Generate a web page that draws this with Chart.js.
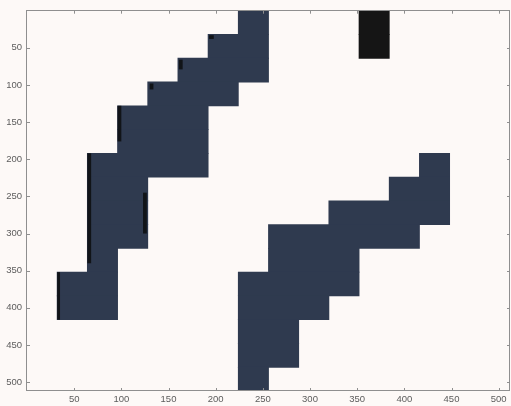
<!DOCTYPE html>
<html>
<head>
<meta charset="utf-8">
<style>
  html, body { margin: 0; padding: 0; background: #fdf9f7; }
  #wrap { width: 511px; height: 406px; }
</style>
<script src="https://cdn.jsdelivr.net/npm/chart.js@4/dist/chart.umd.min.js"></script>
</head>
<body>
<div id="wrap"><canvas id="c" width="511" height="406"></canvas></div>
<script>
// 512 x 512 binary image made of 32 px cells, shown with image-style axes (row 0 at top).
const IMAGE_SIZE = 512;
const CELL = 32;
const TICK_VALUES = [50, 100, 150, 200, 250, 300, 350, 400, 450, 500];

// Upper-left staircase: top edge of each 32 px row and the column span it covers.
const upperRows  = [0, 32, 64, 96, 128, 160, 192, 224, 256, 288, 320, 352, 384];
const upperSpans = [[224, 256], [192, 256], [160, 256], [128, 224], [96, 192], [96, 192],
                    [64, 192], [64, 128], [64, 128], [64, 128], [64, 96], [32, 96], [32, 96]];

// Lower-right staircase.
const lowerRows  = [192, 224, 256, 288, 320, 352, 384, 416, 448, 480];
const lowerSpans = [[416, 448], [384, 448], [320, 448], [256, 416], [256, 352],
                    [224, 352], [224, 320], [224, 288], [224, 288], [224, 256]];

// Solid black block near the top.
const blockRows  = [0, 32];
const blockSpans = [[352, 384], [352, 384]];

// Dark streaks along some edges of the upper staircase: column span and row span.
const streakCols = [[64, 68], [32, 35], [96, 100], [123, 127], [130, 134], [161, 165], [193, 198]];
const streakRowSpans = [[192, 340], [352, 416], [128, 176], [245, 300], [98, 106], [66, 79], [33, 38]];

const SHAPE_COLOR = '#2f3a4f';
const BLOCK_COLOR = '#151515';
const STREAK_COLOR = '#111418';
const PAPER = '#fdf9f7';
const FRAME = '#8f8f8f';
const LABEL = '#5c5c5c';

function rowsToBars(rows, spans) {
  return rows.map((top, i) => ({ y: top + CELL / 2, x: spans[i] }));
}

const paper = {
  id: 'paper',
  beforeDraw(chart) {
    const ctx = chart.ctx;
    ctx.save();
    ctx.fillStyle = PAPER;
    ctx.fillRect(0, 0, chart.width, chart.height);
    ctx.restore();
  }
};

const streaks = {
  id: 'streaks',
  afterDatasetsDraw(chart) {
    const { ctx, scales: { x, y } } = chart;
    ctx.save();
    ctx.fillStyle = STREAK_COLOR;
    streakCols.forEach((c, i) => {
      const r = streakRowSpans[i];
      const x0 = x.getPixelForValue(c[0]), x1 = x.getPixelForValue(c[1]);
      const y0 = y.getPixelForValue(r[0]), y1 = y.getPixelForValue(r[1]);
      ctx.fillRect(x0, Math.min(y0, y1), x1 - x0, Math.abs(y1 - y0));
    });
    ctx.restore();
  }
};

// Box around the image with short inward tick marks on all four sides.
const frame = {
  id: 'frame',
  afterDraw(chart) {
    const { ctx, chartArea: a, scales: { x, y } } = chart;
    ctx.save();
    ctx.strokeStyle = FRAME;
    ctx.lineWidth = 1;
    ctx.strokeRect(Math.round(a.left) - 0.5, Math.round(a.top) - 0.5,
                   Math.round(a.right - a.left), Math.round(a.bottom - a.top));
    ctx.beginPath();
    const len = 3;
    TICK_VALUES.forEach(v => {
      const px = Math.round(x.getPixelForValue(v)) + 0.5;
      ctx.moveTo(px, a.top); ctx.lineTo(px, a.top + len);
      ctx.moveTo(px, a.bottom); ctx.lineTo(px, a.bottom - len);
      const py = Math.round(y.getPixelForValue(v)) + 0.5;
      ctx.moveTo(a.left, py); ctx.lineTo(a.left + len, py);
      ctx.moveTo(a.right, py); ctx.lineTo(a.right - len, py);
    });
    ctx.stroke();
    ctx.restore();
  }
};

const tickFont = { family: '"Liberation Sans", Arial, sans-serif', size: 9.5 };

const fixedTicks = scale => { scale.ticks = TICK_VALUES.map(v => ({ value: v })); };

new Chart(document.getElementById('c'), {
  type: 'bar',
  data: {
    datasets: [
      { data: rowsToBars(upperRows, upperSpans), backgroundColor: SHAPE_COLOR },
      { data: rowsToBars(lowerRows, lowerSpans), backgroundColor: SHAPE_COLOR },
      { data: rowsToBars(blockRows, blockSpans), backgroundColor: BLOCK_COLOR }
    ]
  },
  options: {
    indexAxis: 'y',
    responsive: false,
    animation: false,
    devicePixelRatio: 1,
    layout: { padding: { top: 10, right: 1, left: 0, bottom: 0 } },
    datasets: {
      bar: {
        grouped: false,
        barPercentage: 1,
        categoryPercentage: 1,
        borderWidth: 0,
        inflateAmount: 0.4
      }
    },
    plugins: {
      legend: { display: false },
      tooltip: { enabled: false }
    },
    scales: {
      x: {
        type: 'linear',
        position: 'bottom',
        offset: false,
        min: 0,
        max: IMAGE_SIZE,
        grid: { display: false, drawTicks: false, offset: false },
        border: { display: false },
        afterBuildTicks: fixedTicks,
        afterFit: s => { s.height = 15; },
        ticks: { font: tickFont, color: LABEL, padding: 3, maxRotation: 0, autoSkip: false }
      },
      y: {
        type: 'linear',
        reverse: true,
        offset: false,
        min: 0,
        max: IMAGE_SIZE,
        grid: { display: false, drawTicks: false, offset: false },
        border: { display: false },
        afterBuildTicks: fixedTicks,
        afterFit: s => { s.width = 27; },
        ticks: { font: tickFont, color: LABEL, padding: 5, autoSkip: false }
      }
    }
  },
  plugins: [paper, streaks, frame]
});
</script>
</body>
</html>
